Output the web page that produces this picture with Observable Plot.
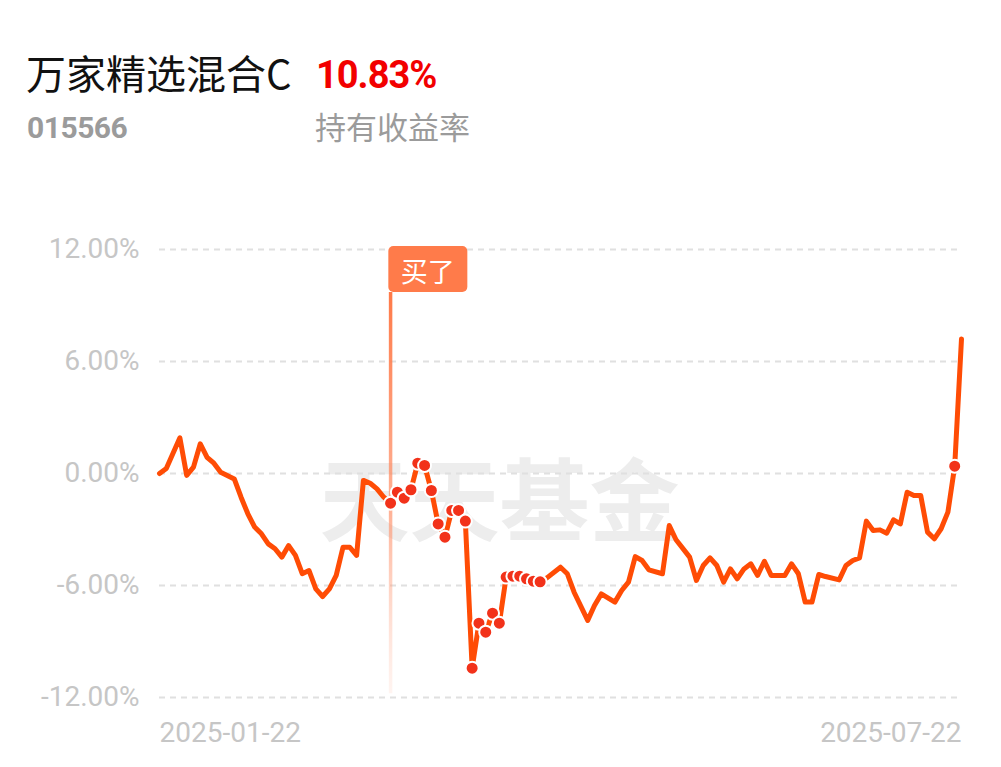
<!DOCTYPE html>
<html><head><meta charset="utf-8">
<script src="https://cdn.jsdelivr.net/npm/d3@7"></script>
<script src="https://cdn.jsdelivr.net/npm/@observablehq/plot@0.6"></script>
<style>
body{margin:0;background:#fff;width:1001px;height:767px;overflow:hidden;position:relative;font-family:Roboto,"Noto Sans CJK SC",sans-serif;}
.h{position:absolute;white-space:nowrap;line-height:1;}
#name{left:26px;top:52px;font-size:40px;color:#111;font-family:"Noto Sans CJK SC";}
#ret{left:316px;top:56px;font-size:38px;font-weight:bold;color:#f20000;font-family:Roboto;letter-spacing:-1px;}
#code{left:27px;top:113px;font-size:30px;font-weight:bold;color:#9b9b9b;font-family:Roboto;letter-spacing:-0.5px;}
#lab{left:315px;top:110px;font-size:31px;color:#9b9b9b;font-family:"Noto Sans CJK SC";}
#chart{position:absolute;left:0;top:200px;}
</style></head>
<body>
<div class="h" id="name"></div>
<div class="h" id="ret"></div>
<div class="h" id="code"></div>
<div class="h" id="lab"></div>
<div id="chart"></div>
<script>
const fundName = "万家精选混合C";
const fundCode = "015566";
const holdReturn = "10.83%";
const holdLabel = "持有收益率";
const watermark = "天天基金";
const buyLabel = "买了";

// trading-day index and cumulative return (%)
const dayIndex = [0,1,3,4,5,6,7,8,9,11,12,13,14,15,16,17,18,19,20,21,22,23,24,25,26,27,28,29,30,31,32,33,34,35,36,37,38,39,40,41,42,43,44,45,46,47,48,49,50,51,52,53,54,55,56,57,59,60,61,63,64,65,67,68,69,70,71,72,74,75,76,78,79,80,81,82,83,84,85,86,87,88,89,90,92,93,94,95,96,97,98,100,101,102,103,104,105,106,107,108,109,110,111,112,113,114,115,116,117,118];
const returnPct = [0.00,0.27,1.91,-0.10,0.34,1.59,0.87,0.55,0.07,-0.29,-1.27,-2.16,-2.87,-3.23,-3.77,-4.03,-4.48,-3.86,-4.39,-5.37,-5.20,-6.18,-6.59,-6.18,-5.46,-3.95,-3.95,-4.39,-0.37,-0.52,-0.82,-1.27,-1.59,-1.00,-1.32,-0.87,0.55,0.43,-0.91,-2.70,-3.41,-1.98,-1.98,-2.55,-10.43,-8.02,-8.50,-7.48,-8.02,-5.55,-5.50,-5.50,-5.64,-5.77,-5.80,-5.59,-5.02,-5.37,-6.36,-7.87,-7.07,-6.45,-6.89,-6.27,-5.82,-4.45,-4.66,-5.16,-5.37,-2.79,-3.55,-4.48,-5.73,-4.93,-4.52,-4.93,-5.82,-5.11,-5.64,-5.11,-4.84,-5.46,-4.70,-5.46,-5.46,-4.84,-5.37,-6.89,-6.89,-5.41,-5.52,-5.70,-4.93,-4.66,-4.52,-2.55,-3.05,-3.02,-3.20,-2.48,-2.70,-1.00,-1.18,-1.18,-3.14,-3.50,-2.96,-2.07,0.39,7.21];
// days marked with a dot (transactions)
const dotDays = [34,35,36,37,38,39,40,41,42,43,44,45,46,47,48,49,50,51,52,53,54,55,56,117];
const buyDay = 34;
const yTicks = [-12,-6,0,6,12];
const xTickDays = [0,118];
const xTickLabels = ["2025-01-22","2025-07-22"];

document.getElementById("name").textContent = fundName;
document.getElementById("ret").textContent = holdReturn;
document.getElementById("code").textContent = fundCode;
document.getElementById("lab").textContent = holdLabel;

const data = dayIndex.map((d,i)=>({day:d, r:returnPct[i]}));
const dots = data.filter(d=>dotDays.includes(d.day));
const labelColor = "#c6c6c6";

const chart = Plot.plot({
  width:1001, height:567,
  marginLeft:159, marginRight:40, marginTop:49, marginBottom:70,
  x:{domain:[xTickDays[0], xTickDays[1]], axis:null},
  y:{domain:[-12,12], ticks:yTicks, tickFormat:d=>d.toFixed(2)+"%", tickSize:0, tickPadding:20, label:null},
  style:{fontFamily:"Roboto", fontSize:"28px", color:labelColor, background:"#fff"},
  marks:[
    Plot.text([watermark],{frameAnchor:"middle", dx:-61, dy:32, fontSize:90, fontWeight:"bold", fill:"#ededed", fontFamily:"Noto Sans CJK SC"}),
    Plot.gridY(yTicks,{stroke:"#e0e0e0", strokeOpacity:1, strokeWidth:2, strokeDasharray:"6,5"}),
    Plot.ruleX([buyDay],{y1:9.7, y2:-11.8, stroke:"url(#buyGrad)", strokeWidth:3.5}),
    Plot.line(data,{x:"day", y:"r", stroke:"#ff4c05", strokeWidth:5, strokeLinejoin:"round", strokeLinecap:"round"}),
    Plot.dot(dots,{x:"day", y:"r", r:6.5, fill:"#f2321a", stroke:"#fff", strokeWidth:2}),
    Plot.text([0],{x:i=>xTickDays[i], text:i=>xTickLabels[i], frameAnchor:"bottom", dy:36, textAnchor:"start", lineAnchor:"middle", fill:labelColor, fontSize:28}),
    Plot.text([1],{x:i=>xTickDays[i], text:i=>xTickLabels[i], frameAnchor:"bottom", dy:36, textAnchor:"end", lineAnchor:"middle", fill:labelColor, fontSize:28})
  ]
});

const svg = d3.select(chart);
const ys = chart.scale("y"), xs = chart.scale("x");
const defs = svg.insert("defs",":first-child");
const g = defs.append("linearGradient").attr("id","buyGrad").attr("gradientUnits","userSpaceOnUse")
  .attr("x1",0).attr("x2",0).attr("y1",ys.apply(9.7)).attr("y2",ys.apply(-11.8));
g.append("stop").attr("offset","0%").attr("stop-color","#ff7a48").attr("stop-opacity",1);
g.append("stop").attr("offset","55%").attr("stop-color","#ff8a60").attr("stop-opacity",0.65);
g.append("stop").attr("offset","100%").attr("stop-color","#ffb8a0").attr("stop-opacity",0.15);

const fx = xs.apply(buyDay) - 1.75, fy = ys.apply(12) - 3;
const flag = svg.append("g");
flag.append("rect").attr("x",fx).attr("y",fy).attr("width",79).attr("height",46).attr("rx",5).attr("fill","#ff7b4a");
flag.append("text").attr("x",fx+39.5).attr("y",fy+24).attr("text-anchor","middle").attr("dominant-baseline","central")
  .attr("fill","#fff").attr("font-size",27).attr("font-family","Noto Sans CJK SC").text(buyLabel);

document.getElementById("chart").appendChild(chart);
</script>
</body></html>
